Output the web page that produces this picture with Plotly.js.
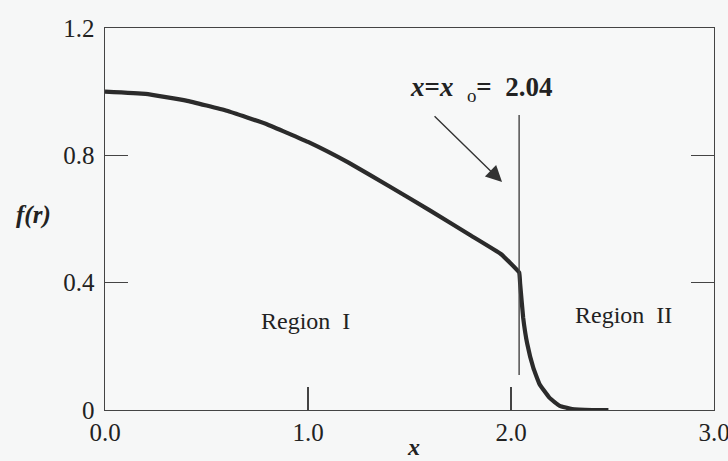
<!DOCTYPE html>
<html>
<head>
<meta charset="utf-8">
<script src="https://cdn.plot.ly/plotly-3.0.1.min.js"></script>
<style>
  html, body { margin: 0; padding: 0; background: #f6f7f7; }
  #chart { width: 728px; height: 461px; }
</style>
</head>
<body>
<div id="chart"></div>
<script>
// Profile f(r) against x: smooth decay in Region I, sharp drop past x0
const xValues = [0, 0.2, 0.4, 0.6, 0.8, 1.0, 1.2, 1.4, 1.6, 1.8, 1.95, 2.04,
                 2.045, 2.06, 2.08, 2.11, 2.14, 2.19, 2.24, 2.3, 2.4, 2.48];
const fValues = [1.0, 0.993, 0.972, 0.94, 0.897, 0.842, 0.777, 0.703, 0.627, 0.549, 0.49, 0.432,
                 0.397, 0.29, 0.208, 0.132, 0.082, 0.038, 0.013, 0.003, 0.0, 0.0];

// Boundary between the two regions
const x0 = 2.04;
const boundaryY = [0.11, 0.927];

const xTickVals = [0, 1, 2, 3];
const xTickText = ['0.0', '1.0', '2.0', '3.0'];
const yTickVals = [0, 0.4, 0.8, 1.2];
const yTickText = ['0', '0.4', '0.8', '1.2'];

const serif = '"Liberation Serif", "Times New Roman", serif';
const ink = '#2b2b2b';

const traces = [
  {
    x: xValues, y: fValues, type: 'scatter', mode: 'lines',
    line: { color: ink, width: 4.2, shape: 'spline', smoothing: 0.3 },
    hoverinfo: 'skip', showlegend: false
  },
  {
    x: [x0, x0], y: boundaryY, type: 'scatter', mode: 'lines',
    line: { color: '#444', width: 1.4 },
    hoverinfo: 'skip', showlegend: false
  }
];

const axisCommon = {
  showgrid: false, zeroline: false,
  showline: true, linecolor: '#444', linewidth: 1.4,
  ticks: 'inside', ticklen: 23, tickwidth: 1.4, tickcolor: '#444',
  tickfont: { family: serif, size: 25, color: '#222' },
  ticklabeloverflow: 'allow',
  fixedrange: true
};

const layout = {
  width: 728, height: 461,
  margin: { l: 105, r: 14, t: 28, b: 51 },
  paper_bgcolor: '#f6f7f7', plot_bgcolor: '#f7f8f8',
  xaxis: Object.assign({}, axisCommon, {
    range: [0, 3], tickvals: xTickVals, ticktext: xTickText, mirror: true
  }),
  yaxis: Object.assign({}, axisCommon, {
    range: [0, 1.2], tickvals: yTickVals, ticktext: yTickText, mirror: 'ticks',
    ticklabelstandoff: 4
  }),
  annotations: [
    {
      x: 1.852, y: 1.008, xref: 'x', yref: 'y', showarrow: false,
      xanchor: 'center', yanchor: 'middle',
      text: '<b><i>x</i>=<i>x</i></b>\u00a0\u00a0<sub>o</sub><b>=\u00a0\u00a02.04</b>',
      font: { family: serif, size: 27, color: '#222' }
    },
    {
      x: 1.956, y: 0.716, ax: 1.616, ay: 0.927,
      xref: 'x', yref: 'y', axref: 'x', ayref: 'y',
      text: '', showarrow: true, arrowhead: 2, arrowsize: 2.3,
      arrowwidth: 1.4, arrowcolor: '#333'
    },
    {
      x: 0.99, y: 0.28, xref: 'x', yref: 'y', showarrow: false,
      xanchor: 'center', yanchor: 'middle',
      text: 'Region\u00a0\u00a0I',
      font: { family: serif, size: 24, color: '#222' }
    },
    {
      x: 2.552, y: 0.298, xref: 'x', yref: 'y', showarrow: false,
      xanchor: 'center', yanchor: 'middle',
      text: 'Region\u00a0\u00a0II',
      font: { family: serif, size: 24, color: '#222' }
    },
    {
      x: -0.118, y: 0.51, xref: 'paper', yref: 'paper', showarrow: false,
      xanchor: 'center', yanchor: 'middle',
      text: '<b><i>f(r)</i></b>',
      font: { family: serif, size: 25, color: '#222' }
    },
    {
      x: 0.506, y: -0.097, xref: 'paper', yref: 'paper', showarrow: false,
      xanchor: 'center', yanchor: 'middle',
      text: '<b><i>x</i></b>',
      font: { family: serif, size: 24, color: '#222' }
    }
  ]
};

Plotly.newPlot('chart', traces, layout, { displayModeBar: false, staticPlot: true });
</script>
</body>
</html>
